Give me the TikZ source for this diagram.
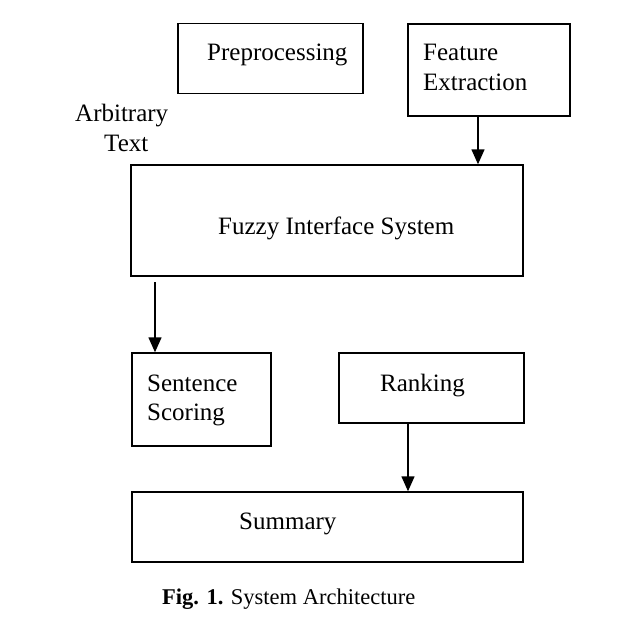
\documentclass[tikz,border=0pt]{standalone}
\usepackage{fontspec}
\setmainfont{Liberation Serif}
\usetikzlibrary{arrows.meta}
\begin{document}
\begin{tikzpicture}[x=1pt,y=-1pt,
  boxnode/.style={draw,line width=1.4pt,inner sep=0pt},
  txt/.style={anchor=base west,inner sep=0pt,font=\fontsize{25}{30}\selectfont},
  arr/.style={line width=1.4pt,-{Triangle[width=13pt,length=15pt]}}]
\useasboundingbox (0,0) rectangle (620,637);
% boxes
\node[boxnode,minimum width=185pt,minimum height=70pt] (pre) at (270.5,58.5) {};
\node[boxnode,minimum width=162pt,minimum height=92pt] (fe) at (489,70) {};
\node[boxnode,minimum width=392pt,minimum height=111pt] (fis) at (327,220.5) {};
\node[boxnode,minimum width=139pt,minimum height=93pt] (ss) at (201.5,399.5) {};
\node[boxnode,minimum width=185pt,minimum height=70pt] (rank) at (431.5,388) {};
\node[boxnode,minimum width=391pt,minimum height=70pt] (sum) at (327.5,527) {};
% texts
\node[txt] (tpre) at (207,60) {Preprocessing};
\node[txt] (tfe1) at (423,60) {Feature};
\node[txt] (tfe2) at (423,90) {Extraction};
\node[txt] (tarb1) at (75,121) {Arbitrary};
\node[txt] (tarb2) at (104,151) {Text};
\node[txt] (tfis) at (218,234) {Fuzzy Interface System};
\node[txt] (tss1) at (147,391) {Sentence};
\node[txt] (tss2) at (147,420) {Scoring};
\node[txt] (trank) at (380,391) {Ranking};
\node[txt] (tsum) at (239,529) {Summary};
\node[anchor=base west,inner sep=0pt,font=\fontsize{22.5}{27}\selectfont] (cap) at (162,604) {\textbf{Fig. 1.} System Architecture};
% connectors
\draw[arr] ([xshift=-11pt]fe.south) -- ([xshift=-11pt]fe.south |- fis.north);
\coordinate (a2) at (155,282);
\draw[arr] (a2) -- (a2 |- ss.north);
\draw[arr] ([xshift=-23.5pt]rank.south) -- ([xshift=-23.5pt]rank.south |- sum.north);
\end{tikzpicture}
\end{document}
